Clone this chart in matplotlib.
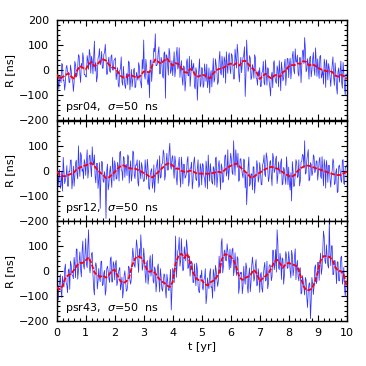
import numpy as np
import matplotlib
matplotlib.use("Agg")
import matplotlib.pyplot as plt
from matplotlib.ticker import MultipleLocator

# ---------------- data ----------------
pulsar_names = ["psr04", "psr12", "psr43"]
sigma_ns = 50

t_obs_a = np.linspace(0, 10, 201)        # epochs 0, 0.05, ... 10 yr
t_obs_b = np.linspace(0.025, 9.975, 200)  # epochs in between
t_model = np.linspace(0, 10, 101)         # model curve epochs [yr]

# residuals at the t_obs_a epochs [ns]
resid_psr04_a = [
    3, -45, -25, -50, 22, -39, -50, 19, -8, -50, 0, -40, -50, 22, -22, 62, -19, 27, 69, -19,
    -27, 58, 3, 63, 55, -15, 116, 30, -27, 55, 21, 75, 8, 70, 53, -15, 52, -9, 61, 0,
    44, -38, 10, -68, 8, -46, 15, -60, -18, -58, 31, -35, -67, 0, -70, -9, -40, 15, -51, 42,
    120, -36, 13, -58, -110, 41, 5, 87, 145, 18, 73, -15, 51, -23, 68, -112, 57, -20, 67, 0,
    -22, 73, 3, 91, 14, -29, 38, -60, 12, -44, 45, -23, -65, 41, 12, -64, 10, -120, 0, -67,
    11, -69, 25, -45, -70, 9, -21, -67, 47, -36, 20, -57, 40, -10, 56, -30, 38, 73, -13, 69,
    -14, 58, -35, 84, 8, 68, -47, 51, 25, 60, -105, 120, -5, 58, -38, 22, -33, 51, -35, -2,
    10, -65, -5, -50, 41, -60, 5, -69, -23, -70, 38, -45, 17, -67, -12, 32, -43, 21, -61, 47,
    -30, 48, 0, 75, -15, 34, 60, -24, 50, 15, 81, 130, -7, 46, -36, 56, -2, 71, -21, 30,
    45, -33, 59, -18, -56, 22, 41, -39, 6, -65, 23, -29, 29, -69, -6, -48, 36, -72, -9, -100,
    -20]
# residuals at the t_obs_b epochs [ns]
resid_psr04_b = [
    8, -75, -25, 27, -43, -80, 10, -8, -48, 20, -35, -85, 35, -27, 13, 56, -49, 9, 44, -17,
    -27, 38, 83, -12, 38, 51, -4, -47, 48, 86, 31, 8, 63, 103, -17, 32, -3, 56, 1, 39,
    49, -15, -60, -2, 53, -60, -30, -73, -13, 36, -79, 3, -37, 8, -67, -25, 30, -41, -71, 5,
    -20, 43, -42, -8, 37, -45, 40, 73, 18, 28, 93, -14, 36, -32, 73, 62, 17, 87, -13, 38,
    28, -27, 63, 4, 89, 13, -32, 17, -83, 30, -20, 55, -25, -3, 27, -75, -5, -40, 45, -54,
    6, -60, -10, 24, -46, -91, -1, -8, -48, 45, -10, -45, 75, -19, 21, 53, -52, 22, 57, 6,
    66, 10, -35, 48, 103, -12, 18, -10, 50, 93, -22, 50, 10, 47, -28, 7, 62, -30, -60, -25,
    -65, -10, 35, -59, -9, 10, -45, -103, -8, 28, -27, -53, 2, 38, -82, 2, -33, 44, -11, 45,
    25, -35, 55, 0, 85, 32, -13, 50, -50, 76, 26, 83, 3, 19, 49, -27, 43, 4, 89, -25,
    -5, 54, -31, -1, 44, -69, 16, 26, -29, -12, 53, -61, -11, -96, 9, -4, -49, 31, -69, -15]

resid_psr12_a = [
    32, -59, 5, -58, -81, 4, -36, 21, -61, -4, 43, -39, -61, 31, -12, 100, -22, 61, 8, 45,
    -18, 84, 1, 63, -24, 40, 64, -48, 30, -36, -150, 38, -40, -3, -190, 27, -56, 19, -66, 4,
    40, -33, 34, -41, 78, 0, 57, -26, 26, 64, -49, 40, -16, 74, -31, 22, -46, 41, -32, 15,
    -43, 44, -34, 11, -74, 0, -70, 24, -31, 24, -50, 60, -24, 32, 68, -17, 70, 4, 110, 6,
    61, -30, 34, -56, 24, -25, 55, -52, 26, -24, 42, -61, 11, 35, -42, 55, -34, 10, -66, 29,
    -56, 24, -31, 39, -72, 3, 29, -45, 17, -57, 55, -29, 41, -75, 13, -42, 59, -21, 84, 2,
    70, -7, 120, -18, 49, 70, -37, 48, -13, 47, -68, -135, 15, -61, -12, -76, 16, -44, 41, -45,
    33, -54, 24, 63, -23, 55, -43, 34, -19, 70, -7, 46, -51, 36, -12, 48, -51, 5, -54, 8,
    15, -77, -120, -1, -58, 45, -27, 44, -40, 38, 60, 120, -8, 66, -40, 33, -19, 64, -8, 40,
    -37, 41, -21, 57, -60, 18, 41, -46, 22, -65, 3, 36, -50, 9, -82, 23, -36, 42, -50, 13,
    21]
resid_psr12_b = [
    37, -25, -70, -1, 54, -51, -21, -61, -1, 43, -72, 19, -21, 43, -32, 18, 73, -2, -32, 32,
    32, -29, 61, 11, 96, 24, -21, 30, -70, 33, -17, 34, -46, -29, 1, -76, -6, -31, 54, -40,
    20, -31, 19, 73, 3, -38, 52, 21, -19, 56, 1, -41, 79, -16, 24, 44, -61, -2, 33, -28,
    -38, 1, 46, -69, -19, 9, -46, -86, 9, 45, -10, -29, 26, 83, -37, 38, 3, 75, 20, 51,
    6, 59, -26, 9, 54, -65, 20, 26, -29, -8, 57, -39, 11, -72, 33, 6, -39, 44, -56, 9,
    29, -21, -66, 8, 63, -41, -11, -53, 7, 50, -65, 21, -19, 28, -47, 9, 64, -6, -36, 30,
    45, -15, 35, 84, 14, -42, 48, 12, -28, 42, -13, -65, 55, -52, -12, 16, -89, -14, 21, -27,
    3, -56, 34, -13, 72, 17, -28, 41, -59, 53, 3, 59, -21, 3, 33, -56, 14, -29, 56, -55,
    -50, -8, 37, -63, -13, 33, -22, -60, 35, 66, 11, -13, 42, 85, -35, 26, -9, 57, 2, 38,
    -7, 54, -31, 0, 45, -69, 16, 22, -33, -17, 48, -55, -5, -87, 18, -1, -46, 45, -55, 16]

resid_psr43_a = [
    -33, -115, -48, -75, -20, -63, 28, -56, 4, -73, 25, -17, 55, -26, 88, 2, 77, -23, 120, 8,
    130, 14, 165, -7, 70, -13, -95, 34, -71, 11, -42, 40, -53, 3, -76, 20, -30, 49, -43, 38,
    -35, 43, -43, 6, -75, -24, -77, 1, -80, -53, 15, -52, 47, 60, 15, 125, 35, 90, 145, 3,
    92, -10, 33, -52, 37, -20, 67, -48, 7, -47, 29, -83, -20, -80, -11, -77, -12, -75, -33, -155,
    12, -46, 140, 20, 90, 20, 130, 1, 97, 41, 95, 17, -20, 40, -45, 29, -58, 8, -81, -16,
    4, -75, -25, -130, -27, -70, 10, -62, 7, -80, 3, -61, 60, -8, 130, 18, 85, 41, 80, 6,
    13, 85, -18, 73, -17, 50, -64, -10, -90, 19, -52, 15, -87, 13, -47, 56, -40, 23, -59, 10,
    -85, -5, -84, 15, -40, 40, -50, 26, -38, 84, 6, 86, 165, 14, 71, -33, 48, -19, 78, 11,
    78, 1, 83, -19, 59, -34, 43, -39, 14, -87, -38, -95, -35, -145, -51, -190, -25, -93, 15, -50,
    35, -37, 72, 11, 160, 40, 105, 23, 198, 22, 101, -13, 42, -50, 37, -39, 55, -52, 15, -100,
    -50]
resid_psr43_b = [
    -93, -58, -13, -105, -55, 8, -47, -86, 9, 40, -15, -30, 25, 88, -32, 42, 7, 78, 23, 73,
    28, 105, 20, 30, 75, -70, 15, 14, -41, -27, 38, -58, -8, -96, 9, 0, -45, 57, -43, 25,
    30, -58, -8, 15, -55, -107, -17, -36, -76, 20, -35, -28, 92, 25, 65, 100, -5, 54, 89, 22,
    52, -47, 43, -23, 62, 7, -38, 17, -83, 14, -36, 10, -70, -46, -16, -107, -37, -78, 7, -78,
    -3, 20, -25, 80, 135, 40, 70, 7, 67, 125, 10, 60, 20, 30, -45, -23, 32, -56, -86, -26,
    -66, -35, 10, -102, -52, -10, -65, -108, -13, 23, -32, -40, 15, 113, -7, 78, 43, 109, 54, 88,
    43, 92, 7, 13, 58, -89, -4, -5, -60, -32, 33, -62, -12, -82, 23, 20, -25, 46, -54, -20,
    -15, -69, -19, 35, -35, -70, 20, 17, -23, 81, 26, -4, 116, 6, 46, 53, -52, 28, 63, 13,
    43, -27, 63, 4, 89, 23, -22, 9, -91, -18, -68, -25, -105, -76, -46, -120, -50, -60, 25, -40,
    35, 32, -13, 80, 135, 30, 60, 12, 72, 101, -14, 42, 2, 37, -38, 5, 60, -35, -65, -50]

# smooth model curves at t_model epochs [ns]
model_psr04 = [
    -17, -35, -28, -20, -13, -25, -35, -2, 16, 9,
    3, 23, 33, 16, 23, 36, 43, 38, 22, 11,
    9, -5, -22, -30, -28, -19, -22, -27, -30, -21,
    -5, -7, -8, 20, 43, 33, 26, 38, 47, 32,
    18, 28, 24, 8, -8, -10, 5, -3, -25, -25,
    -19, -20, -31, -31, -13, 0, 5, 6, 13, 22,
    26, 20, 28, 18, 35, 38, 25, 12, 2, -10,
    -35, -25, -14, -25, -33, -22, -18, -27, -8, -1,
    15, 20, 20, 27, 25, 36, 33, 19, 23, 19,
    10, 4, -1, -4, -4, -7, -21, -26, -19, -24,
    -35]
model_psr12 = [
    -3, -15, -21, -21, -16, -12, -6, 8, 13, 18,
    22, 26, 31, 19, 5, -7, -16, -29, -26, -16,
    -5, 9, 18, 22, 16, 11, 9, 9, 4, -2,
    -8, -14, -24, -26, -16, -5, 6, 18, 28, 30,
    21, 9, 9, 0, -4, -3, 1, -2, -9, -11,
    -11, -11, -12, -11, -8, -5, -4, -7, 4, 14,
    20, 25, 29, 18, 7, -3, -15, -27, -24, -14,
    -7, -1, 7, 12, 16, 13, 9, 3, -6, -14,
    -20, -23, -18, -2, 10, 16, 22, 20, 16, 12,
    8, 4, 0, -4, -8, -12, -15, -17, -16, -10,
    -4]
model_psr43 = [
    -63, -73, -60, -27, -16, -10, 5, 23, 32, 33,
    43, 55, 30, -5, -16, -22, -18, -26, -15, 2,
    5, -18, -40, -47, -41, -25, 22, 50, 60, 54,
    42, 8, -3, 2, -8, -26, -40, -46, -57, -63,
    -43, 30, 60, 70, 52, 70, 35, -5, -28, -36,
    -36, -50, -57, -45, -38, -27, -5, 48, 68, 64,
    58, 42, 13, -24, -35, -27, -22, -12, 5, -9,
    -40, -29, -20, -10, 12, 36, 46, 31, 13, 28,
    33, 28, 24, 18, -16, -58, -75, -76, -70, -45,
    -5, 42, 60, 60, 57, 46, 17, 2, 0, -15,
    -60]

resid_a = [resid_psr04_a, resid_psr12_a, resid_psr43_a]
resid_b = [resid_psr04_b, resid_psr12_b, resid_psr43_b]
models = [model_psr04, model_psr12, model_psr43]

y_ticks = [-200, -100, 0, 100, 200]
y_ticklabels_top = ["\u2212200", "\u2212100", "0", "100", "200"]
y_ticklabels_other = ["\u2212200", "\u2212100", "0", "100", ""]
x_ticks = list(range(0, 11))


def merge(a, b):
    out = np.empty(len(a) + len(b))
    out[0::2] = a
    out[1::2] = b
    return out


t_obs = merge(t_obs_a, t_obs_b)

# ---------------- figure ----------------
plt.rcParams["font.family"] = ["DejaVu Sans"]
plt.rcParams["mathtext.fontset"] = "dejavusans"
fs = 8

fig = plt.figure(figsize=(3.66, 3.66), dpi=100)
W, H = 366.0, 366.0
left_px, right_px = 56.7, 346.7
tops = [20.0, 120.7, 221.0]
panel_h = 100.3

axes = []
for i in range(3):
    top = tops[i]
    ax = fig.add_axes([left_px / W, 1 - (top + panel_h) / H,
                       (right_px - left_px) / W, panel_h / H])
    axes.append(ax)
    ax.plot(t_obs, merge(resid_a[i], resid_b[i]), color="blue",
            lw=0.55, alpha=0.8, zorder=2)
    ax.plot(t_model, models[i], color="red", lw=1.3,
            ls=(0, (2.6, 0.9)), zorder=3)
    ax.set_xlim(0, 10)
    ax.set_ylim(-200, 200)
    ax.xaxis.set_minor_locator(MultipleLocator(0.2))
    ax.yaxis.set_minor_locator(MultipleLocator(20))
    ax.set_xticks(x_ticks)
    ax.set_yticks(y_ticks)
    ax.set_yticklabels(y_ticklabels_top if i == 0 else y_ticklabels_other,
                       fontsize=fs)
    ax.tick_params(which="both", direction="in", top=True, right=True,
                   width=0.8, colors="black")
    ax.tick_params(which="major", length=4.5)
    ax.tick_params(which="minor", length=2.2)
    ax.tick_params(axis="x", labelsize=fs, pad=5)
    ax.tick_params(axis="y", pad=5.5)
    if i < 2:
        ax.tick_params(axis="x", labelbottom=False)
    for sp in ax.spines.values():
        sp.set_linewidth(1.0)
    ax.set_ylabel("R [ns]", fontsize=fs, labelpad=2.5)
    ax.text(0.029, 0.1,
            pulsar_names[i] + ",  $\\sigma$=%d  ns" % sigma_ns,
            transform=ax.transAxes, fontsize=fs, ha="left", va="baseline",
            zorder=5)

axes[2].set_xlabel("t [yr]", fontsize=fs, labelpad=3)

fig.savefig("out.png", dpi=100)
